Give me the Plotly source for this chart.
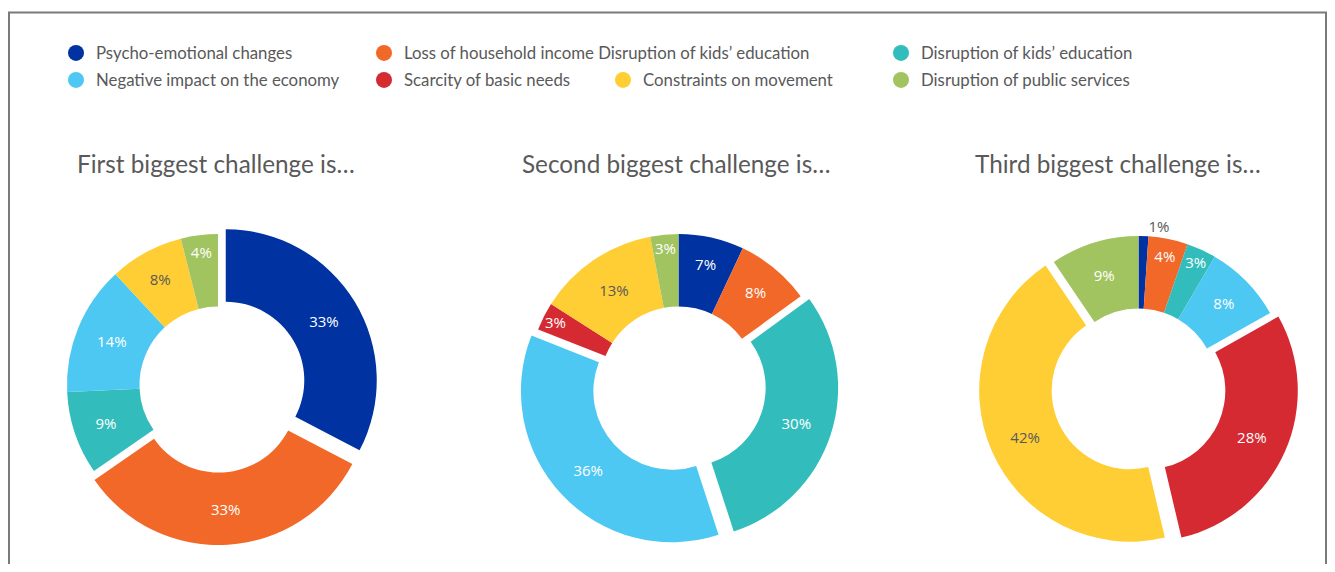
import plotly.graph_objects as go

# ---------------- data ----------------
categories = [
    "Psycho-emotional changes",
    "Loss of household income",
    "Disruption of kids\u2019 education",
    "Negative impact on the economy",
    "Scarcity of basic needs",
    "Constraints on movement",
    "Disruption of public services",
]
legend_labels = [
    "Psycho-emotional changes",
    "Loss of household income Disruption of kids\u2019 education",
    "Disruption of kids\u2019 education",
    "Negative impact on the economy",
    "Scarcity of basic needs",
    "Constraints on movement",
    "Disruption of public services",
]
colors = ["#0033A1", "#F26829", "#32BDBC", "#4CC8F3", "#D62A33", "#FFCD34", "#A1C461"]

first_values = [33, 33, 9, 14, 0, 8, 4]
second_values = [7, 8, 30, 36, 3, 13, 3]
third_values = [1, 4, 3, 8, 28, 42, 9]

first_pull = [1, 1, 0, 0, 0, 0, 0]
second_pull = [0, 0, 1, 1, 0, 0, 0]
third_pull = [0, 0, 0, 0, 1, 1, 0]

titles = ["First biggest challenge is\u2026", "Second biggest challenge is\u2026", "Third biggest challenge is\u2026"]

# ---------------- layout constants (screen px) ----------------
OFF = 8          # page body margin of the html page
W, H = 1335 - 2 * OFF, 572 - 2 * OFF
GRAY = "#595959"
R = 151          # outer radius (px)
PULL = 0.06
HOLE = 0.52
centers = [(218, 385), (678.5, 385), (1138.5, 387)]
title_pos = [(216, 163), (676, 163), (1118, 163)]
legend_pos = [(75, 53), (383, 53), (900, 53), (75, 80), (383, 80), (622, 80), (900, 80)]


def fx(px):
    return (px - OFF) / W


def fy(py):
    return 1 - (py - OFF) / H


def px_domain(cx, cy, r, pull):
    s = r * (1 + pull)
    return dict(x=[fx(cx - s), fx(cx + s)], y=[fy(cy + s), fy(cy - s)])


def fmt(v):
    return "" if v == 0 else f"{v}%"


fig = go.Figure()

for i, (vals, pulls) in enumerate([(first_values, first_pull), (second_values, second_pull), (third_values, third_pull)]):
    texts = [fmt(v) for v in vals]
    tcolors = [GRAY if c == "#FFCD34" else "white" for c in colors]
    positions = ["inside"] * len(vals)
    if i == 2:
        positions[0] = "outside"
        tcolors[0] = GRAY
    fig.add_trace(go.Pie(
        labels=categories,
        values=vals,
        text=texts,
        textinfo="text",
        textposition=positions,
        insidetextorientation="horizontal",
        textfont=dict(family="Open Sans", size=15, color=tcolors),
        marker=dict(colors=colors, line=dict(width=0)),
        pull=[p * PULL for p in pulls],
        hole=HOLE,
        sort=False,
        direction="clockwise",
        rotation=0,
        showlegend=False,
        domain=px_domain(centers[i][0], centers[i][1], R, PULL),
        hoverinfo="label+text",
    ))

# legend entries (one small legend per entry to mimic the grid layout)
for k, (lab, col) in enumerate(zip(legend_labels, colors)):
    lname = "legend" if k == 0 else f"legend{k + 1}"
    fig.add_trace(go.Scatter(
        x=[None], y=[None], mode="markers", name=lab,
        marker=dict(color=col, size=16, symbol="circle"),
        legend=lname, showlegend=True, hoverinfo="skip",
    ))

legend_layouts = {}
for k, (sx, sy) in enumerate(legend_pos):
    lname = "legend" if k == 0 else f"legend{k + 1}"
    legend_layouts[lname] = dict(
        x=fx(sx - 19), y=fy(sy), xanchor="left", yanchor="middle",
        orientation="v", bgcolor="rgba(0,0,0,0)", borderwidth=0,
        font=dict(family="Lato", size=16.8, color=GRAY),
        itemclick=False, itemdoubleclick=False,
    )

annotations = [
    dict(text=t, x=fx(tx), y=fy(ty), xref="paper", yref="paper", showarrow=False,
         xanchor="center", yanchor="middle", font=dict(family="Lato", size=24.3, color=GRAY))
    for t, (tx, ty) in zip(titles, title_pos)
]

fig.update_layout(
    width=W, height=H,
    margin=dict(l=0, r=0, t=0, b=0),
    paper_bgcolor="white", plot_bgcolor="white",
    xaxis=dict(visible=False), yaxis=dict(visible=False),
    annotations=annotations,
    uniformtext=dict(minsize=15, mode="show"),
    shapes=[dict(type="rect", xref="paper", yref="paper",
                 x0=fx(9), x1=fx(1326), y0=-0.2, y1=fy(12.5),
                 line=dict(color="#7A7A7A", width=2), fillcolor="rgba(0,0,0,0)", layer="below")],
    **legend_layouts,
)

fig.write_html("out.html")
